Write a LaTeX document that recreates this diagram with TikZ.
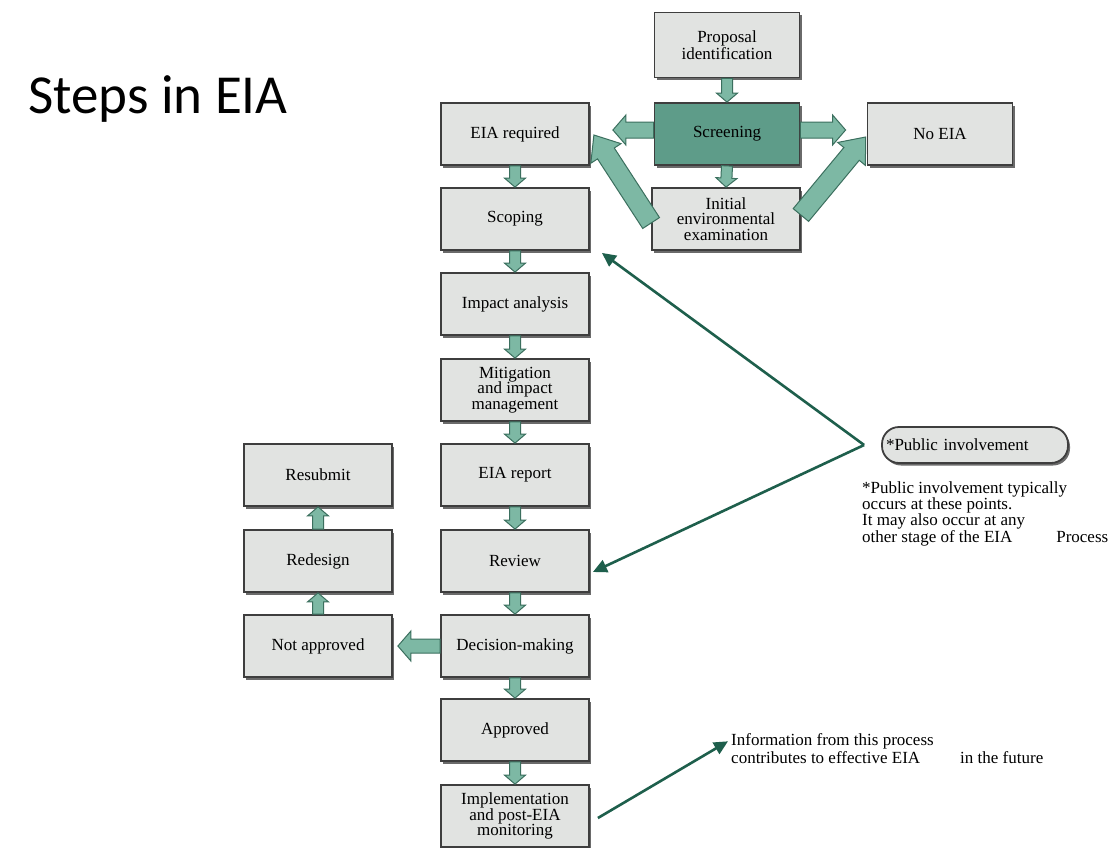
\documentclass[tikz,border=0pt]{standalone}
\usepackage{fontspec}
\setmainfont{Liberation Serif}
\newfontfamily\titlefont{Carlito}
\usetikzlibrary{calc,shadows,arrows.meta}
\definecolor{boxgray}{HTML}{E1E3E1}
\definecolor{boxline}{HTML}{3E3E3E}
\definecolor{shadowgray}{HTML}{6A6A6A}
\definecolor{scrfill}{HTML}{5E9C89}
\definecolor{arrfill}{HTML}{7DB8A4}
\definecolor{arrdraw}{HTML}{3B6F5E}
\definecolor{linegreen}{HTML}{1E5F4C}
\newcommand\barrow[5]{%
  \coordinate (ba-P) at ($(#2)!#5!(#1)$);
  \draw[blockarr] ($(#1)!#3!90:(#2)$) -- ($(ba-P)!#3!90:(#2)$) -- ($(ba-P)!#4!90:(#2)$) -- (#2)
     -- ($(ba-P)!#4!-90:(#2)$) -- ($(ba-P)!#3!-90:(#2)$) -- ($(#1)!#3!-90:(#2)$) -- cycle;}
\begin{document}
\begin{tikzpicture}[x=1pt,y=-1pt,
  ebox/.style={draw=boxline, line width=1.8pt, fill=boxgray, minimum width=148pt, minimum height=62pt,
    align=center, font=\fontsize{17}{15.5}\selectfont, inner sep=1pt,
    drop shadow={shadow xshift=2pt, shadow yshift=-2.5pt, fill=shadowgray, opacity=1}},
  blockarr/.style={draw=arrdraw, line width=1pt, fill=arrfill, line join=miter},
  pline/.style={draw=linegreen, line width=2.6pt, -{Triangle[length=14pt,width=13pt]}},
  note/.style={align=left, font=\fontsize{17}{15}\selectfont, inner sep=0pt}]
\useasboundingbox[fill=white] (0,0) rectangle (1115,847);

\node[anchor=base west, font=\titlefont\fontsize{55}{60}\selectfont, inner sep=0pt] (title) at (28,113) {Steps in EIA};

% boxes
\node[ebox, minimum width=145pt, minimum height=65pt] (prop) at (727,45) {Proposal\\identification};
\node[ebox, minimum width=145pt, fill=scrfill] (scr) at (727,134) {Screening};
\node[ebox] (req) at (515,134) {EIA required};
\node[ebox, minimum width=145pt] (noeia) at (940,134) {No EIA};
\node[ebox] (iee) at (726,219) {Initial\\environmental\\examination};
\node[ebox] (scop) at (515,219) {Scoping};
\node[ebox] (imp) at (515,304) {Impact analysis};
\node[ebox] (mit) at (515,390) {Mitigation\\and impact\\management};
\node[ebox] (rep) at (515,475) {EIA report};
\node[ebox] (rev) at (515,561) {Review};
\node[ebox] (dec) at (515,646) {Decision-making};
\node[ebox] (app) at (515,730) {Approved};
\node[ebox] (impl) at (515,816) {Implementation\\and post-EIA\\monitoring};
\node[ebox] (resub) at (318,475) {Resubmit};
\node[ebox] (redes) at (318,561) {Redesign};
\node[ebox] (notapp) at (318,646) {Not approved};

% public involvement
\node[draw=boxline, line width=1.8pt, fill=boxgray, rounded corners=17pt, minimum width=186pt, minimum height=36pt,
  text width=178pt, align=left, font=\fontsize{17}{17}\selectfont, inner sep=4pt,
  drop shadow={shadow xshift=2pt, shadow yshift=-2.5pt, fill=shadowgray, opacity=1}] (pub) at (975,445) {*Public involvement};
\node[note, anchor=north west] (pnote) at (862,481) {*Public involvement typically\\occurs at these points.\\It may also occur at any\\other stage of the EIA\hspace{44pt}Process};
\node[note, anchor=north west, font=\fontsize{17}{18}\selectfont] (info) at (731,733) {Information from this process\\contributes to effective EIA\hspace{40pt}in the future};

% block arrows, vertical chain
\barrow{prop.south}{scr.north}{5.5pt}{10.5pt}{9pt}
\barrow{scr.south}{iee.north}{5.5pt}{10.5pt}{9pt}
\barrow{req.south}{scop.north}{5.5pt}{10.5pt}{9pt}
\barrow{scop.south}{imp.north}{5.5pt}{10.5pt}{9pt}
\barrow{imp.south}{mit.north}{5.5pt}{10.5pt}{9pt}
\barrow{mit.south}{rep.north}{5.5pt}{10.5pt}{9pt}
\barrow{rep.south}{rev.north}{5.5pt}{10.5pt}{9pt}
\barrow{rev.south}{dec.north}{5.5pt}{10.5pt}{9pt}
\barrow{dec.south}{app.north}{5.5pt}{10.5pt}{9pt}
\barrow{app.south}{impl.north}{5.5pt}{10.5pt}{9pt}
\barrow{notapp.north}{redes.south}{5.5pt}{10.5pt}{9pt}
\barrow{redes.north}{resub.south}{5.5pt}{10.5pt}{9pt}

% screening outcomes
\coordinate (scrL) at ([shift={(0,-4)}]scr.west);
\coordinate (reqT) at ([shift={(23,-4)}]req.east);
\coordinate (scrR) at ([shift={(0,-4)}]scr.east);
\coordinate (noT) at ([shift={(-21,-4)}]noeia.west);
\barrow{scrL}{reqT}{8pt}{15pt}{13pt}
\barrow{scrR}{noT}{8pt}{15pt}{13pt}

\coordinate (ieeL) at ([shift={(0,4)}]iee.west);
\coordinate (reqD) at ([shift={(4,1)}]req.east);
\coordinate (ieeR) at ([shift={(0,-4)}]iee.east);
\coordinate (noD) at ([shift={(-1,3)}]noeia.west);
\barrow{ieeL}{reqD}{10pt}{18pt}{22pt}
\barrow{ieeR}{noD}{10pt}{18pt}{22pt}

\coordinate (decL) at ([shift={(5,0)}]notapp.east);
\barrow{dec.west}{decL}{7pt}{15pt}{13pt}

% public involvement lines
\coordinate (pv) at ([xshift=-17pt]pub.west);
\draw[pline] (pv) -- ([shift={(12,2)}]scop.south east);
\draw[pline] (pv) -- ([shift={(3,11)}]rev.east);
\draw[pline] ([shift={(8,2)}]impl.east) -- ([shift={(-3,-7)}]info.west);
\end{tikzpicture}
\end{document}
